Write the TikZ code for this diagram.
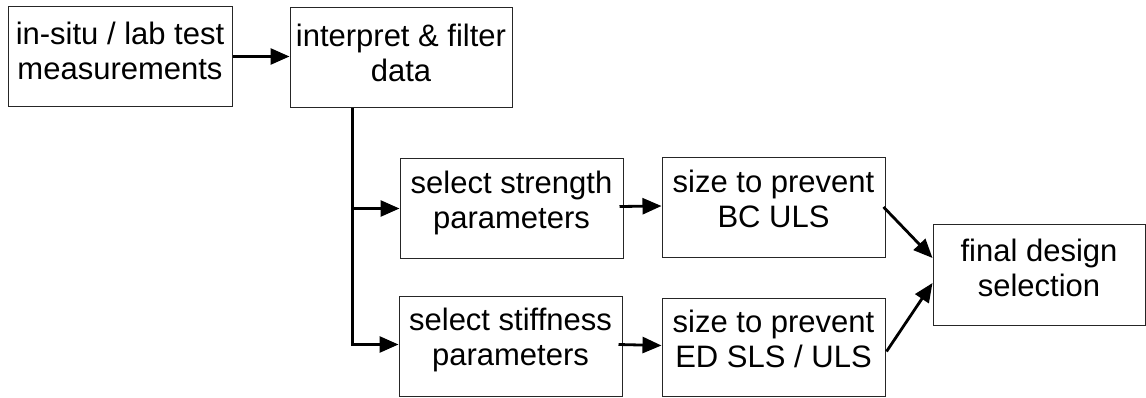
\documentclass[tikz,border=0pt]{standalone}
\usepackage{fontspec}
\setmainfont{Liberation Sans}
\usetikzlibrary{arrows.meta,calc}
\newcommand\bt[3][4pt]{\raisebox{#1}[\height][\depth]{\begin{tabular}{@{}c@{}}#2\\#3\end{tabular}}}
\begin{document}
\begin{tikzpicture}[x=1pt,y=-1pt,
  box/.style={draw=black!85, line width=1pt, inner sep=0pt,
    font=\fontsize{31}{35}\selectfont, minimum width=#1, minimum height=100pt},
  box/.default=223pt,
  arr/.style={line width=2.8pt, -{Triangle[length=19pt,width=16pt]}}]
\useasboundingbox (0,0) rectangle (1146,398);
\node[box=224pt] (meas) at (120,56.5) {\bt[1pt]{in-situ / lab test}{measurements}};
\node[box=222pt] (interp) at (401,57.5) {\bt[0.5pt]{interpret \& filter}{data}};
\node[box] (strength) at (511.5,208.5) {\bt[4.7pt]{select strength}{parameters}};
\node[box] (stiff) at (510.5,346.5) {\bt[6pt]{select stiffness}{parameters}};
\node[box] (bc) at (773.5,208) {\bt[4.7pt]{size to prevent}{BC ULS}};
\node[box, minimum height=98pt] (ed) at (773.5,347.5) {\bt[4.2pt]{size to prevent}{ED SLS / ULS}};
\node[box=212pt] (final) at (1039,275) {\bt[2.8pt]{final design}{selection}};
\coordinate (split) at ($(interp.south west)+(63,0)$);
\draw[arr] (meas.east) -- (interp.west |- meas.east);
\draw[arr] (split) |- (strength.west);
\draw[arr] (split) |- ($(stiff.west)+(0,-2)$);
\draw[arr] ($(strength.east)+(-4,-2)$) -- ($(bc.west)+(0,-2)$);
\draw[arr] ($(stiff.east)+(-4,-2)$) -- ($(ed.west)+(0,-2)$);
\draw[arr] ($(bc.east)+(-2,-1)$) -- ($(final.west)+(0,-17)$);
\draw[arr] ($(ed.east)+(1,4)$) -- ($(final.west)+(0,8)$);
\end{tikzpicture}
\end{document}
